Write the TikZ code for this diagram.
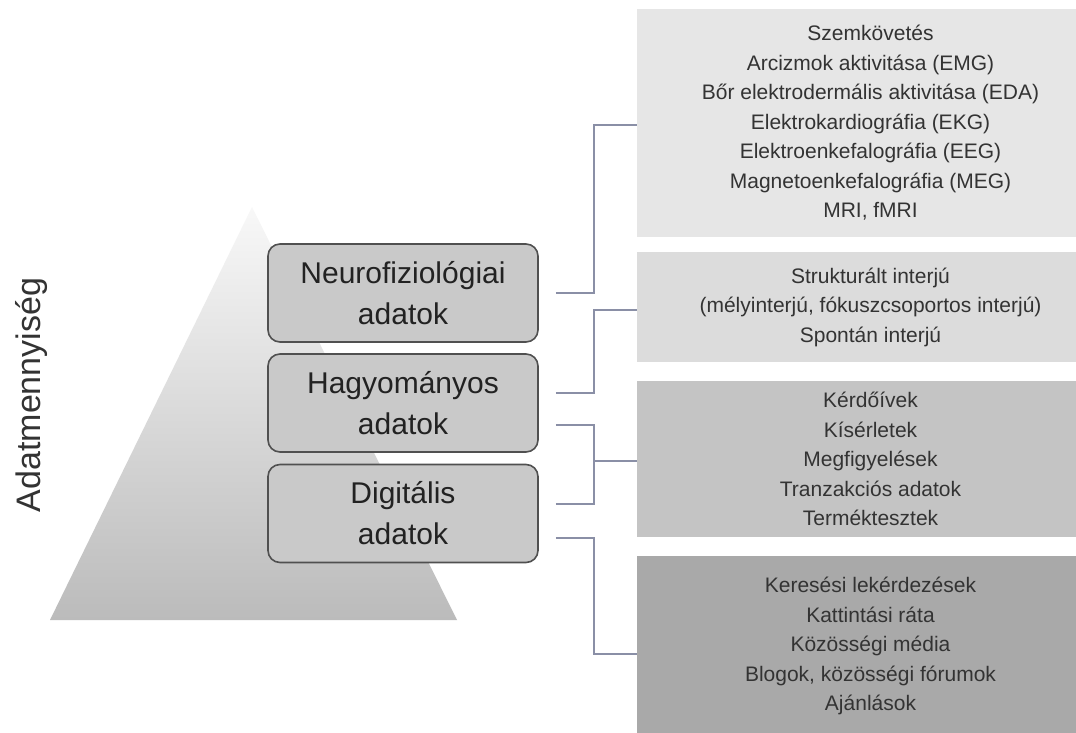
\documentclass[tikz,border=0pt]{standalone}
\usepackage{fontspec}
\setmainfont{Liberation Sans}
\usetikzlibrary{calc}
\definecolor{conncol}{HTML}{8A8FA6}
\definecolor{boxline}{HTML}{505050}
\definecolor{lboxfill}{HTML}{C9C9C9}
\definecolor{rfillA}{HTML}{E6E6E6}
\definecolor{rfillB}{HTML}{DCDCDC}
\definecolor{rfillC}{HTML}{C4C4C4}
\definecolor{rfillD}{HTML}{A9A9A9}
\definecolor{pyrtop}{HTML}{F8F8F8}
\definecolor{pyrbot}{HTML}{BBBBBB}
\definecolor{txtdark}{HTML}{222222}
\definecolor{txtmid}{HTML}{333333}
\begin{document}
\begin{tikzpicture}[x=1pt,y=-1pt,
  lbox/.style={draw=boxline, line width=1.6pt, rounded corners=12pt, fill=lboxfill,
    minimum width=270pt, minimum height=98pt, align=center,
    font=\fontsize{30}{41}\selectfont, text=txtdark, inner sep=0pt},
  rbox/.style={minimum width=467pt, align=center,
    font=\fontsize{21}{29.5}\selectfont, text=txtmid, inner sep=0pt},
  conn/.style={draw=conncol, line width=1.5pt}]
\useasboundingbox (0,0) rectangle (1076,733);
\clip (0,0) rectangle (1076,733);
\fill[white] (0,0) rectangle (1076,733);
% pyramid
\shade[top color=pyrtop, bottom color=pyrbot] (252,207) -- (457,620) -- (50,620) -- cycle;
% axis label
\node[rotate=90, font=\fontsize{34}{40}\selectfont, text=txtmid] (ylab) at (32,395) {Adatmennyiség};
% left boxes
\node[lbox] (neuro) at (403,293) {Neurofiziológiai\\adatok};
\node[lbox] (hag) at (403,403) {Hagyományos\\adatok};
\node[lbox] (dig) at (403,513.5) {Digitális\\adatok};
% right boxes
\node[rbox, fill=rfillA, minimum height=228pt] (box1) at (870.5,123)
  {Szemkövetés\\Arcizmok aktivitása (EMG)\\Bőr elektrodermális aktivitása (EDA)\\Elektrokardiográfia (EKG)\\Elektroenkefalográfia (EEG)\\Magnetoenkefalográfia (MEG)\\MRI, fMRI};
\node[rbox, fill=rfillB, minimum height=110pt] (box2) at (870.5,307)
  {Strukturált interjú\\(mélyinterjú, fókuszcsoportos interjú)\\Spontán interjú};
\node[rbox, fill=rfillC, minimum height=156pt] (box3) at (870.5,459)
  {Kérdőívek\\Kísérletek\\Megfigyelések\\Tranzakciós adatok\\Terméktesztek};
\node[rbox, fill=rfillD, minimum height=180pt] (box4) at (870.5,646)
  {Keresési lekérdezések\\Kattintási ráta\\Közösségi média\\Blogok, közösségi fórumok\\Ajánlások};
% connectors
\draw[conn] ($(neuro.east)+(17,0)$) -| ($(box1.west)+(-43,2)$) -- ($(box1.west)+(0,2)$);
\draw[conn] ($(hag.east)+(17,-10)$) -| ($(box2.west)+(-43,3)$) -- ($(box2.west)+(0,3)$);
\draw[conn] ($(hag.east)+(17,22)$) -| ($(box3.west)+(-43,2)$) -- ($(box3.west)+(0,2)$);
\draw[conn] ($(dig.east)+(17,-9.5)$) -| ($(box3.west)+(-43,2)$);
\draw[conn] ($(dig.east)+(17,24.5)$) -| ($(box4.west)+(-43,8)$) -- ($(box4.west)+(0,8)$);
\end{tikzpicture}
\end{document}
